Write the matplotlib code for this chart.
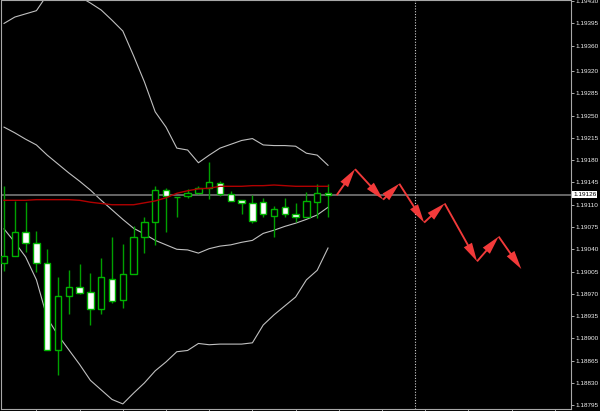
import matplotlib
matplotlib.use("Agg")
import matplotlib.pyplot as plt
from matplotlib.patches import Rectangle, FancyArrowPatch
from matplotlib.transforms import blended_transform_factory

# OHLC of the visible bars (oldest first)
opens = [1.19019, 1.19030, 1.19067, 1.19050, 1.19019, 1.18881, 1.18967, 1.18981,
         1.18973, 1.18946, 1.18994, 1.18960, 1.19001, 1.19060, 1.19083, 1.19133,
         1.19122, 1.19123, 1.19128, 1.19137, 1.19144, 1.19127, 1.19117, 1.19113,
         1.19115, 1.19092, 1.19106, 1.19095, 1.19091, 1.19114, 1.19129]
highs = [1.19139, 1.19116, 1.19114, 1.19069, 1.19041, 1.18996, 1.19007, 1.19017,
         1.19003, 1.19026, 1.19059, 1.19048, 1.19076, 1.19090, 1.19139, 1.19136,
         1.19122, 1.19135, 1.19139, 1.19177, 1.19148, 1.19132, 1.19117, 1.19125,
         1.19120, 1.19108, 1.19120, 1.19112, 1.19130, 1.19142, 1.19142]
lows = [1.19006, 1.19030, 1.19035, 1.19005, 1.18881, 1.18843, 1.18939, 1.18969,
        1.18921, 1.18938, 1.18956, 1.18948, 1.19001, 1.19034, 1.19046, 1.19067,
        1.19090, 1.19121, 1.19127, 1.19119, 1.19123, 1.19116, 1.19096, 1.19081,
        1.19091, 1.19060, 1.19091, 1.19083, 1.19091, 1.19089, 1.19091]
closes = [1.19030, 1.19067, 1.19050, 1.19019, 1.18881, 1.18967, 1.18981, 1.18971,
          1.18946, 1.18996, 1.18958, 1.19001, 1.19060, 1.19083, 1.19133, 1.19123,
          1.19122, 1.19129, 1.19137, 1.19145, 1.19127, 1.19116, 1.19113, 1.19084,
          1.19095, 1.19103, 1.19096, 1.19091, 1.19116, 1.19129, 1.19126]

# indicator lines, one value per bar
band_mid = [1.19117, 1.19117, 1.19117, 1.19118, 1.19118, 1.19118, 1.19118, 1.19117,
            1.19114, 1.19112, 1.19110, 1.19110, 1.19110, 1.19113, 1.19116, 1.19121,
            1.19128, 1.19132, 1.19135, 1.19136, 1.19139, 1.19139, 1.19139, 1.19140,
            1.19140, 1.19141, 1.19140, 1.19139, 1.19139, 1.19139, 1.19139]
band_upper = [1.19395, 1.19405, 1.19410, 1.19415, 1.19440, 1.19455, 1.19455, 1.19437,
              1.19427, 1.19416, 1.19400, 1.19383, 1.19344, 1.19303, 1.19256, 1.19232,
              1.19199, 1.19196, 1.19176, 1.19188, 1.19199, 1.19205, 1.19211, 1.19214,
              1.19204, 1.19203, 1.19203, 1.19202, 1.19191, 1.19188, 1.19172]
band_inner = [1.19232, 1.19223, 1.19213, 1.19204, 1.19188, 1.19174, 1.19160, 1.19147,
              1.19133, 1.19117, 1.19102, 1.19087, 1.19073, 1.19064, 1.19054, 1.19047,
              1.19040, 1.19039, 1.19034, 1.19041, 1.19045, 1.19047, 1.19051, 1.19054,
              1.19065, 1.19070, 1.19076, 1.19081, 1.19087, 1.19094, 1.19106]
band_lower = [1.19072, 1.19051, 1.19028, 1.18992, 1.18932, 1.18905, 1.18882, 1.18859,
              1.18834, 1.18819, 1.18804, 1.18797, 1.18814, 1.18830, 1.18849, 1.18863,
              1.18879, 1.18881, 1.18892, 1.18890, 1.18891, 1.18891, 1.18891, 1.18893,
              1.18921, 1.18937, 1.18951, 1.18965, 1.18992, 1.19007, 1.19042]

# hand-drawn forecast path (bar index, price)
forecast_x = [30.8, 32.5, 35.1, 36.6, 38.9, 40.8, 43.8, 45.8, 47.9]
forecast_y = [1.19125, 1.19166, 1.19118, 1.19143, 1.19082, 1.19112, 1.19021, 1.19060, 1.19009]

last_price = 1.19126
separator_x = 38.1
price_ticks = [1.18795, 1.18830, 1.18865, 1.18900, 1.18935, 1.18970, 1.19005,
               1.19040, 1.19075, 1.19110, 1.19145, 1.19180, 1.19215, 1.19250,
               1.19285, 1.19320, 1.19360, 1.19395, 1.19430]
time_ticks = [3, 7, 11, 15, 19, 23, 27, 31, 35, 39, 43, 47, 51]

WICK = "#00a000"
LABEL_FONT = ["Liberation Sans", "DejaVu Sans"]
LABEL_SIZE = 4.6


def draw_candles(ax):
    for i, (o, h, l, c) in enumerate(zip(opens, highs, lows, closes)):
        ax.vlines(i, l, h, color=WICK, lw=1.0, zorder=2)
        face = "white" if c < o else "black"
        ax.add_patch(Rectangle((i - 0.3, min(o, c)), 0.6, abs(c - o),
                               facecolor=face, edgecolor="#00b400", lw=1.0, zorder=3))


def draw_forecast(ax):
    for k in range(len(forecast_x) - 1):
        arrow = FancyArrowPatch((forecast_x[k], forecast_y[k]),
                                (forecast_x[k + 1], forecast_y[k + 1]),
                                arrowstyle="simple,head_length=1.5,head_width=0.75,tail_width=0.15",
                                mutation_scale=9, color="#f23a3a", lw=0,
                                shrinkA=0, shrinkB=0, zorder=5)
        ax.add_patch(arrow)


fig = plt.figure(figsize=(6.0, 4.11), dpi=100, facecolor="black")
ax = fig.add_axes([1 / 600, 2 / 411, 570 / 600, 408.5 / 411], facecolor="black")

x = list(range(len(closes)))
ax.plot(x, band_upper, color="#c0c0c0", lw=0.8, zorder=1)
ax.plot(x, band_inner, color="#c0c0c0", lw=0.8, zorder=1)
ax.plot(x, band_lower, color="#c0c0c0", lw=0.8, zorder=1)
ax.axhline(last_price, color="#6e6e6e", lw=1.3, zorder=1)
ax.plot(x, band_mid, color="#b00000", lw=1.0, zorder=4)
draw_candles(ax)
draw_forecast(ax)
ax.axvline(separator_x, color="#d0d0d0", lw=0.8, ls=(0, (1, 1.5)), zorder=1)

ax.set_xlim(-0.28, 52.5)
ax.set_ylim(1.18789, 1.19431)

ax.yaxis.tick_right()
ax.set_yticks(price_ticks)
ax.set_yticklabels([f"{p:.5f}" for p in price_ticks], family=LABEL_FONT)
ax.tick_params(axis="y", direction="out", length=2, width=0.7, color="#b0b0b0",
               labelcolor="#f0f0f0", labelsize=LABEL_SIZE, pad=1.0)
ax.set_xticks(time_ticks)
ax.set_xticklabels([])
ax.tick_params(axis="x", direction="out", length=2.5, width=0.7, color="#b0b0b0")
for spine in ax.spines.values():
    spine.set_color("#a8a8a8")
    spine.set_linewidth(0.8)

trans = blended_transform_factory(ax.transAxes, ax.transData)
ax.text(1.004, last_price, f"{last_price:.5f}", transform=trans, ha="left", va="center",
        fontsize=LABEL_SIZE, family=LABEL_FONT, color="black", clip_on=False,
        bbox=dict(boxstyle="square,pad=0.15", facecolor="white", edgecolor="none"))

fig.savefig("out.png", dpi=100, facecolor="black")
